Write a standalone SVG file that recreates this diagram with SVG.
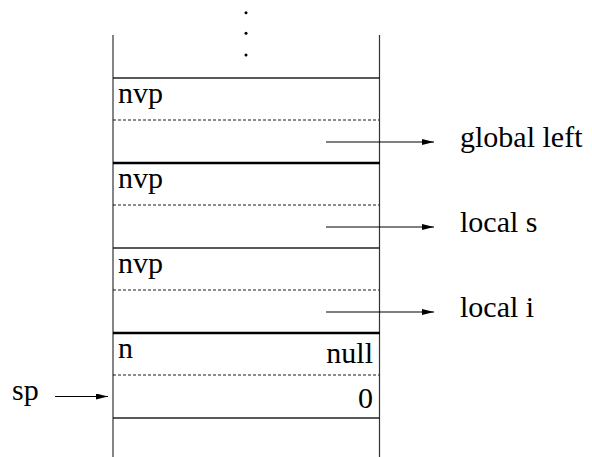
<svg xmlns="http://www.w3.org/2000/svg" width="592" height="457" viewBox="0 0 592 457">
<defs>
<marker id="ah" viewBox="0 0 12 6" refX="12" refY="3" markerWidth="12" markerHeight="6" markerUnits="userSpaceOnUse" orient="auto">
<path d="M0,0 L12,3 L0,6 Z" fill="#000"/>
</marker>
<style>
.t{font-family:"Liberation Serif","Times New Roman",serif;font-size:30px;fill:#000}
.r{text-anchor:end}
.wall{stroke:#333;stroke-width:1.2;fill:none}
.thin{stroke:#222;stroke-width:1.5}
.thick{stroke:#000;stroke-width:2.4}
.dash{stroke:#000;stroke-width:0.9;stroke-dasharray:3 2}
.arr{stroke:#000;stroke-width:1.2;fill:none;marker-end:url(#ah)}
</style>
</defs>
<rect width="592" height="457" fill="#fff"/>
<g id="ellipsis">
<circle cx="246" cy="12.7" r="1.5" fill="#000"/>
<circle cx="246" cy="33.3" r="1.5" fill="#000"/>
<circle cx="246" cy="55" r="1.5" fill="#000"/>
</g>
<g id="stack-walls">
<line class="wall" x1="113" y1="35" x2="113" y2="457"/>
<line class="wall" x1="379.5" y1="35" x2="379.5" y2="457"/>
</g>
<g id="frame-global-left">
<line class="thin" x1="113" y1="78" x2="380" y2="78"/>
<line class="dash" x1="113" y1="120" x2="379" y2="120"/>
<text class="t" x="118" y="103">nvp</text>
</g>
<g id="frame-local-s">
<line class="thick" x1="113" y1="163" x2="380" y2="163"/>
<line class="dash" x1="113" y1="205" x2="379" y2="205"/>
<text class="t" x="118" y="188">nvp</text>
</g>
<g id="frame-local-i">
<line class="thin" x1="113" y1="248" x2="380" y2="248"/>
<line class="dash" x1="113" y1="290" x2="379" y2="290"/>
<text class="t" x="118" y="273">nvp</text>
</g>
<g id="frame-bottom">
<line class="thick" x1="113" y1="333" x2="380" y2="333"/>
<line class="dash" x1="113" y1="375" x2="379" y2="375"/>
<text class="t" x="118" y="358">n</text>
<text class="t r" x="373" y="362.5">null</text>
<text class="t r" x="373" y="408">0</text>
<line class="thin" x1="113" y1="418" x2="380" y2="418"/>
</g>
<g id="label-global-left"><text class="t" x="460" y="147">global left</text></g>
<g id="label-local-s"><text class="t" x="460" y="232">local s</text></g>
<g id="label-local-i"><text class="t" x="460" y="317">local i</text></g>
<g id="label-sp"><text class="t" x="12" y="400">sp</text></g>
<g id="connectors">
<line class="arr" x1="326" y1="142" x2="434" y2="142"/>
<line class="arr" x1="326" y1="227" x2="434" y2="227"/>
<line class="arr" x1="326" y1="312" x2="434" y2="312"/>
<line class="arr" x1="55" y1="396.5" x2="108" y2="396.5"/>
</g>
</svg>
